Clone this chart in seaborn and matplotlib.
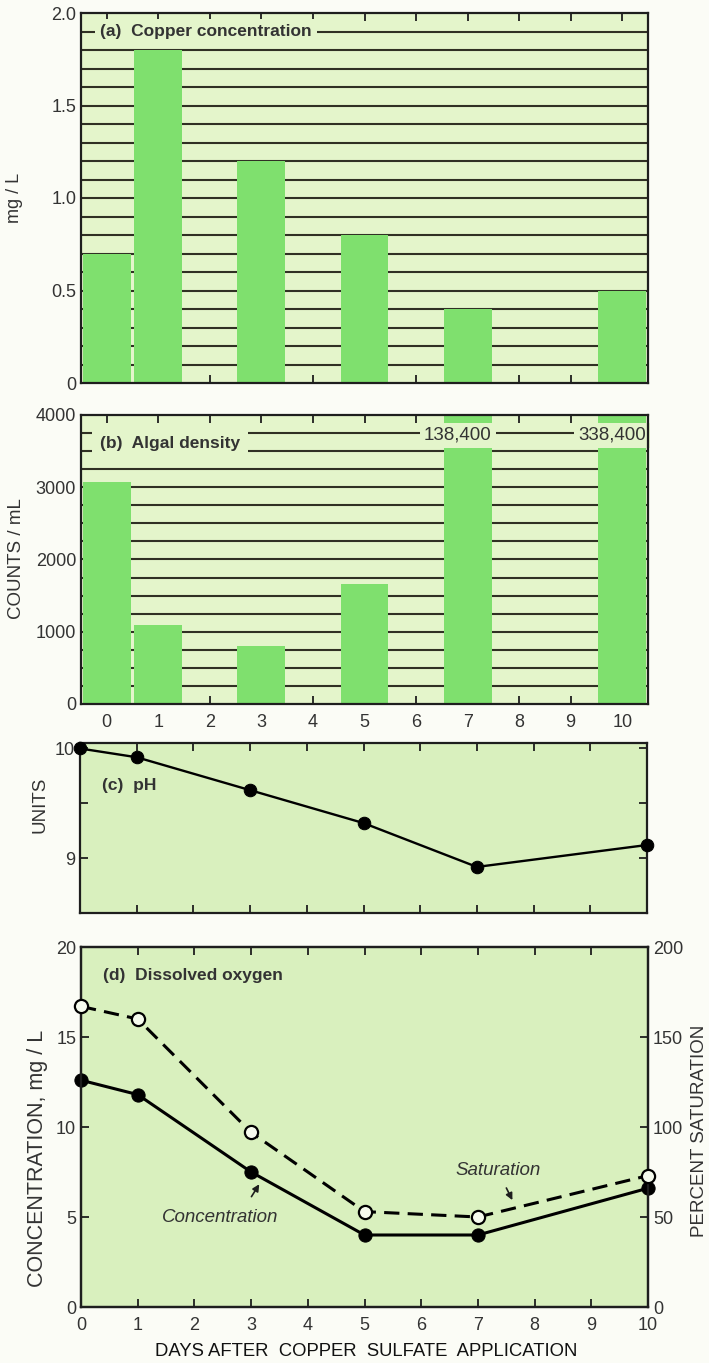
import numpy as np
import pandas as pd
import matplotlib
matplotlib.use("Agg")
import matplotlib.pyplot as plt
import seaborn as sns
from matplotlib.ticker import FixedLocator, MultipleLocator, FuncFormatter

# data
days = [0, 1, 3, 5, 7, 10]
copper = [0.70, 1.80, 1.20, 0.80, 0.40, 0.50]          # mg / L
algae = [3070, 1100, 800, 1660, 138400, 338400]       # counts / mL
ph = [10.0, 9.92, 9.62, 9.32, 8.92, 9.12]
oxygen_conc = [12.6, 11.8, 7.5, 4.0, 4.0, 6.6]        # mg / L
oxygen_sat = [167, 160, 97, 53, 50, 73]               # percent
day_ticks = list(range(11))
copper_grid = [round(0.1 * i, 1) for i in range(1, 20)]
algae_grid = [250 * i for i in range(1, 16)]

sns.set_style("ticks")
plt.rcParams["font.family"] = ["Liberation Sans", "DejaVu Sans"]

bg_bar = "#e4f5cb"
bg_line = "#d9f0be"
bar_c = "#7fe06e"
ink = "#1e1e1e"
txt = "#333333"
grid_c = "#303024"

W, H = 709, 1363
fig = plt.figure(figsize=(W / 100, H / 100), dpi=100)
fig.patch.set_facecolor("#fbfcf6")


def box(l, r, t, b):
    return [l / W, 1 - b / H, (r - l) / W, (b - t) / H]


def style(ax, bg):
    ax.set_facecolor(bg)
    for s in ax.spines.values():
        s.set_color(ink)
        s.set_linewidth(1.6)
    ax.tick_params(which="both", direction="in", length=6, width=1.3, color=ink,
                   labelsize=13, labelcolor=txt, top=True)
    ax.set_xlabel("")
    ax.set_ylabel("")


ax_a = fig.add_axes(box(81, 648, 13, 383))
ax_b = fig.add_axes(box(81, 648, 415, 704))
ax_c = fig.add_axes(box(80, 647, 743, 913))
ax_d = fig.add_axes(box(81, 648, 947, 1307))

# (a) copper concentration
df_a = pd.DataFrame({"day": days, "copper": copper})
sns.barplot(data=df_a, x="day", y="copper", native_scale=True, width=0.93,
            color=bar_c, saturation=1, linewidth=0, ax=ax_a)
for v in copper_grid:
    ax_a.axhline(v, color=grid_c, lw=1.5, zorder=0.8)
style(ax_a, bg_bar)
ax_a.set_xlim(-0.5, 10.5)
ax_a.set_ylim(0, 2.0)
ax_a.xaxis.set_major_locator(FixedLocator(day_ticks))
ax_a.yaxis.set_major_locator(MultipleLocator(0.5))
ax_a.yaxis.set_minor_locator(MultipleLocator(0.1))
ax_a.yaxis.set_major_formatter(FuncFormatter(lambda v, p: "0" if v == 0 else f"{v:.1f}"))
ax_a.tick_params(axis="x", labelbottom=False)
ax_a.tick_params(axis="y", which="both", right=True)
ax_a.text(-0.13, 1.9, "(a)  Copper concentration", fontsize=12.5, fontweight="bold",
          color=txt, ha="left", va="center", zorder=2,
          bbox=dict(fc=bg_bar, ec="none", boxstyle="square,pad=0.3"))

# (b) algal density
df_b = pd.DataFrame({"day": days, "algae": algae})
sns.barplot(data=df_b, x="day", y="algae", native_scale=True, width=0.93,
            color=bar_c, saturation=1, linewidth=0, ax=ax_b)
for v in algae_grid:
    ax_b.axhline(v, color=grid_c, lw=1.5, zorder=0.8)
style(ax_b, bg_bar)
ax_b.set_xlim(-0.5, 10.5)
ax_b.set_ylim(0, 4000)
ax_b.xaxis.set_major_locator(FixedLocator(day_ticks))
ax_b.yaxis.set_major_locator(MultipleLocator(1000))
ax_b.yaxis.set_minor_locator(MultipleLocator(250))
ax_b.tick_params(axis="x", pad=7)
ax_b.text(-0.13, 3610, "(b)  Algal density", fontsize=12.5, fontweight="bold",
          color=txt, ha="left", va="center", zorder=2,
          bbox=dict(fc=bg_bar, ec="none", boxstyle="square,pad=0.45"))
for d, v in zip(days, algae):
    if v > 4000:
        ax_b.text(d + 0.465, 3720, f"{v:,}", fontsize=13.5, color=txt, ha="right",
                  va="center", zorder=2,
                  bbox=dict(fc=bg_bar, ec="none", boxstyle="square,pad=0.22"))

# (c) pH
sns.lineplot(x=days, y=ph, ax=ax_c, color="black", lw=1.7, marker="o",
             markersize=9, markeredgecolor="black", clip_on=False, zorder=4)
style(ax_c, bg_line)
ax_c.set_xlim(0, 10)
ax_c.set_ylim(8.5, 10.05)
ax_c.xaxis.set_major_locator(FixedLocator(day_ticks))
ax_c.yaxis.set_major_locator(FixedLocator([9, 9.5, 10]))
ax_c.yaxis.set_major_formatter(FuncFormatter(lambda v, p: "" if v == 9.5 else f"{v:.0f}"))
ax_c.tick_params(axis="x", labelbottom=False)
ax_c.tick_params(axis="y", right=True)
ax_c.text(0.39, 9.66, "(c)  pH", fontsize=12.5, fontweight="bold", color=txt,
          ha="left", va="center")

# (d) dissolved oxygen
style(ax_d, bg_line)
ax_d2 = ax_d.twinx()
sns.lineplot(x=days, y=oxygen_conc, ax=ax_d, color="black", lw=2.2, marker="o",
             markersize=9.5, markeredgecolor="black", clip_on=False, zorder=4)
sns.lineplot(x=days, y=oxygen_sat, ax=ax_d2, color="black", lw=2.2,
             ls=(0, (5.0, 2.7)), marker="o", markersize=9.5, markerfacecolor="#f6fbee",
             markeredgecolor="black", markeredgewidth=1.6, clip_on=False, zorder=4)
ax_d.set_xlim(0, 10)
ax_d.set_ylim(0, 20)
ax_d2.set_ylim(0, 200)
ax_d.xaxis.set_major_locator(FixedLocator(day_ticks))
ax_d.yaxis.set_major_locator(MultipleLocator(5))
ax_d2.yaxis.set_major_locator(MultipleLocator(50))
ax_d.tick_params(axis="x", pad=7)
ax_d.tick_params(axis="y", right=False)
ax_d2.tick_params(direction="in", length=6, width=1.3, color=ink, labelsize=13,
                  labelcolor=txt)
ax_d2.set_ylabel("")
for s in ax_d2.spines.values():
    s.set_color(ink)
    s.set_linewidth(1.6)
ax_d.text(0.39, 18.4, "(d)  Dissolved oxygen", fontsize=12.5, fontweight="bold",
          color=txt, ha="left", va="center")
ax_d.text(2.45, 5.0, "Concentration", fontsize=13.5, style="italic", color=txt,
          ha="center", va="center")
ax_d.annotate("", xy=(3.17, 6.95), xytext=(2.98, 6.0),
              arrowprops=dict(arrowstyle="-|>", color=ink, lw=1.2, mutation_scale=10))
ax_d.text(7.35, 7.56, "Saturation", fontsize=13.5, style="italic", color=txt,
          ha="center", va="center")
ax_d.annotate("", xy=(7.63, 5.8), xytext=(7.48, 6.75),
              arrowprops=dict(arrowstyle="-|>", color=ink, lw=1.2, mutation_scale=10))

# axis titles
fig.text(15 / W, 1 - 198 / H, "mg / L", rotation=90, fontsize=13, color=txt,
         ha="center", va="center")
fig.text(17 / W, 1 - 559 / H, "COUNTS / mL", rotation=90, fontsize=13.5, color=txt,
         ha="center", va="center")
fig.text(40 / W, 1 - 805 / H, "UNITS", rotation=90, fontsize=13.5, color=txt,
         ha="center", va="center")
fig.text(38 / W, 1 - 1158 / H, "CONCENTRATION, mg / L", rotation=90, fontsize=15.5,
         color=txt, ha="center", va="center")
fig.text(700 / W, 1 - 1131 / H, "PERCENT SATURATION", rotation=90, fontsize=13.5,
         color=txt, ha="center", va="center")
fig.text(366 / W, 1 - 1352 / H, "DAYS AFTER  COPPER  SULFATE  APPLICATION",
         fontsize=13.3, color="#111111", ha="center", va="center")

fig.savefig("out.png", dpi=100, facecolor=fig.get_facecolor())
